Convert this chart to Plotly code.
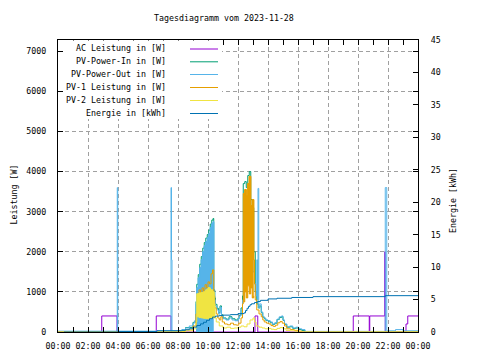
import datetime as dt
import plotly.graph_objects as go

# ---------------- data ----------------
DAY = "2023-11-28"

# AC Leistung [W]
t_ac = ["00:00", "02:55", "03:56", "06:33", "07:32", "13:08", "13:19",
        "19:41", "20:45", "20:47", "21:47", "21:49", "23:12", "23:19", "24:00"]
v_ac = [0, 400, 0, 400, 0, 400, 0,
        400, 0, 400, 2000, 0, 200, 400, 400]

# PV-Power-In [W]
t_pv_in = ["00:00", "08:00", "08:30", "09:00", "09:12", "09:15", "09:21", "09:27",
           "09:33", "09:39", "09:45", "09:51", "09:57", "10:03", "10:09", "10:15",
           "10:20", "10:23", "10:27", "10:30", "10:36", "10:42", "10:48", "10:54",
           "11:00", "11:12", "11:24", "11:36", "11:48", "12:00", "12:06", "12:12",
           "12:18", "12:21", "12:27", "12:33", "12:39", "12:45", "12:51", "12:57",
           "13:03", "13:09", "13:15", "13:21", "13:27", "13:33", "13:39", "13:45",
           "13:51", "14:00", "14:09", "14:18", "14:27", "14:36", "14:45", "14:54",
           "15:00", "15:06", "15:15", "15:27", "15:39", "15:51", "16:03", "16:15",
           "16:28", "24:00"]
v_pv_in = [0, 30, 110, 240, 760, 1190, 1430, 1690,
           1880, 2090, 2230, 2340, 2430, 2540, 2690, 2790,
           2830, 1050, 850, 690, 590, 480, 650, 430,
           350, 320, 380, 330, 300, 350, 420, 600,
           900, 3700, 3750, 3600, 3900, 4000, 3300, 3100,
           2000, 1000, 700, 600, 650, 480, 370, 330,
           290, 270, 230, 190, 220, 310, 360, 380,
           290, 190, 120, 130, 90, 100, 60, 40,
           0, 0]

# PV-Power-Out [W]
t_pv_out = ["00:00", "03:57", "03:59", "07:32", "07:34", "07:36", "08:00", "08:15",
            "08:30", "08:45", "09:00", "09:06", "09:12", "09:15", "09:21", "09:27",
            "09:33", "09:39", "09:45", "09:51", "09:57", "10:03", "10:09", "10:15",
            "10:20", "10:23", "10:27", "10:30", "10:36", "10:42", "10:48", "10:54",
            "11:00", "11:12", "11:24", "11:36", "11:48", "12:00", "12:06", "12:12",
            "12:18", "12:24", "12:30", "12:36", "12:42", "12:48", "12:54", "13:00",
            "13:06", "13:12", "13:15", "13:18", "13:20", "13:23", "13:27", "13:33",
            "13:39", "13:45", "13:51", "14:00", "14:09", "14:18", "14:27", "14:36",
            "14:45", "14:54", "15:00", "15:06", "15:15", "15:27", "15:39", "15:51",
            "16:03", "16:15", "16:28", "21:49", "21:55", "22:30", "23:00", "24:00"]
v_pv_out = [20, 3600, 20, 3600, 1800, 20, 30, 60,
            100, 150, 220, 280, 700, 1100, 1350, 1600,
            1800, 2000, 2150, 2250, 2350, 2450, 2600, 2700,
            2750, 1000, 800, 650, 550, 450, 620, 400,
            330, 300, 350, 300, 280, 330, 400, 550,
            800, 1500, 1200, 1600, 1300, 2000, 2500, 1500,
            1200, 900, 1800, 800, 3580, 600, 700, 500,
            380, 350, 300, 280, 250, 200, 230, 320,
            380, 400, 300, 200, 130, 150, 100, 120,
            80, 60, 15, 3600, 30, 60, 30, 20]

# dense part of PV-Power-Out (drawn as a filled band)
t_pv_out_band = ["09:12", "09:15", "09:21", "09:27", "09:33", "09:39", "09:45",
                 "09:51", "09:57", "10:03", "10:09", "10:15", "10:20", "10:23"]
v_pv_out_band = [700, 1100, 1350, 1600, 1800, 2000, 2150,
                 2250, 2350, 2450, 2600, 2700, 2750, 1000]

# PV-1 Leistung [W]
t_pv1 = ["00:00", "08:00", "08:30", "09:00", "09:12", "09:18", "09:24", "09:30",
         "09:36", "09:42", "09:48", "09:54", "10:00", "10:06", "10:12", "10:18",
         "10:23", "10:27", "10:33", "10:39", "10:45", "10:51", "10:57", "11:06",
         "11:18", "11:30", "11:42", "11:54", "12:03", "12:12", "12:18", "12:21",
         "12:27", "12:33", "12:39", "12:45", "12:51", "12:57", "13:03", "13:06",
         "13:09", "13:15", "13:24", "13:33", "13:39", "13:45", "13:54", "14:03",
         "14:12", "14:21", "14:30", "14:39", "14:48", "14:57", "15:06", "15:15",
         "15:30", "15:45", "16:00", "16:15", "24:00"]
v_pv1 = [0, 10, 50, 150, 450, 900, 1050, 880,
         1100, 1000, 1180, 1100, 1250, 1200, 1450, 1550,
         900, 600, 450, 350, 300, 380, 250, 200,
         180, 220, 180, 170, 220, 350, 700, 3450,
         3550, 3400, 3700, 3880, 3150, 3300, 1800, 1200,
         800, 550, 450, 380, 300, 250, 220, 200,
         160, 140, 170, 230, 260, 220, 150, 80,
         60, 40, 20, 0, 0]

# dense part of PV-1 (drawn as a filled band)
t_pv1_band = ["12:21", "12:27", "12:33", "12:39", "12:45", "12:51", "12:57", "13:03"]
v_pv1_band_hi = [3450, 3550, 3400, 3700, 3880, 3150, 3300, 1800]
v_pv1_band_lo = [750, 1000, 850, 1150, 950, 1100, 850, 900]

# PV-2 Leistung [W]
t_pv2 = ["00:00", "08:00", "08:30", "09:00", "09:12", "09:15", "09:24", "09:33",
         "09:42", "09:51", "10:00", "10:09", "10:18", "10:24", "10:27", "10:33",
         "10:45", "11:00", "11:15", "11:30", "11:45", "12:00", "12:12", "12:24",
         "12:36", "12:48", "13:00", "13:06", "13:12", "13:24", "13:36", "13:48",
         "14:00", "14:12", "14:24", "14:36", "14:48", "15:00", "15:12", "15:30",
         "15:48", "16:00", "24:00"]
v_pv2 = [0, 5, 30, 80, 250, 950, 970, 980,
         1000, 1050, 1100, 1050, 1000, 700, 350, 250,
         150, 100, 120, 90, 100, 120, 150, 130,
         200, 300, 350, 250, 150, 120, 100, 80,
         90, 70, 60, 90, 110, 80, 40, 30,
         20, 0, 0]

# dense part of PV-2 (drawn as a filled band)
t_pv2_band = ["09:15", "09:24", "09:33", "09:42", "09:51", "10:00", "10:09", "10:18", "10:24", "10:27"]
v_pv2_band_hi = [950, 970, 980, 1000, 1050, 1100, 1050, 1000, 700, 350]
v_pv2_band_lo = [380, 360, 350, 340, 330, 330, 340, 350, 350, 350]

# Energie [kWh]
t_energy = ["00:24", "04:00", "06:36", "08:15", "08:30", "08:45", "09:00", "09:15",
            "09:30", "09:42", "09:54", "10:06", "10:18", "10:30", "10:45", "11:00",
            "11:30", "12:00", "12:24", "12:30", "12:36", "12:42", "12:48", "12:54",
            "13:06", "13:18", "13:30", "14:00", "14:36", "15:35", "17:00", "21:49", "24:00"]
v_energy = [0, 0.08, 0.2, 0.26, 0.35, 0.5, 0.75, 1.0,
            1.25, 1.5, 1.8, 2.05, 2.3, 2.45, 2.55, 2.6,
            2.68, 2.83, 2.95, 3.3, 3.65, 3.95, 4.2, 4.35,
            4.55, 4.7, 4.88, 5.1, 5.2, 5.32, 5.45, 5.6, 5.6]

legend_names = ["AC Leistung in [W]", "PV-Power-In in [W]", "PV-Power-Out in [W]",
                "PV-1 Leistung in [W]", "PV-2 Leistung in [W]", "Energie in [kWh]"]
colors = ["#9400d3", "#009e73", "#56b4e9", "#e69f00", "#f0e442", "#0072b2"]

y_ticks = [0, 1000, 2000, 3000, 4000, 5000, 6000, 7000]
y2_ticks = [0, 5, 10, 15, 20, 25, 30, 35, 40, 45]

# ---------------- helpers ----------------
BASE = dt.datetime.strptime(DAY, "%Y-%m-%d")


def tx(times):
    out = []
    for s in times:
        h, m = s.split(":")
        out.append(BASE + dt.timedelta(hours=int(h), minutes=int(m)))
    return out


FONT = "DejaVu Sans Mono"
FS = 8.3

# the page body has an 8px margin: figure is 472x352 placed at (8, 8)
OFF = 8
W, H = 480 - OFF, 360 - OFF
# plot area in window pixels: x 58..418, y 40..332
L, R, T, B = 58 - OFF, 62, 40 - OFF, 28
PW, PH = W - L - R, H - T - B


def px(xw):
    return (xw - OFF - L) / PW


def py(yw):
    return (H - B - (yw - OFF)) / PH


fig = go.Figure()


def line(t, v, c, yaxis="y", **kw):
    fig.add_trace(go.Scatter(x=tx(t), y=v, mode="lines", yaxis=yaxis,
                             line=dict(color=c, width=1, shape="hv"),
                             showlegend=False, hoverinfo="skip", **kw))


# draw order as in the original (gnuplot): AC, PV-In, PV-Out, PV-1, PV-2, Energie
line(t_ac, v_ac, colors[0])
line(t_pv_in, v_pv_in, colors[1])
line(t_pv_out_band, v_pv_out_band, colors[2], fill="tozeroy", fillcolor=colors[2])
line(t_pv_out, v_pv_out, colors[2])
line(t_pv1_band, v_pv1_band_lo, colors[3])
line(t_pv1_band, v_pv1_band_hi, colors[3], fill="tonexty", fillcolor=colors[3])
line(t_pv1, v_pv1, colors[3])
line(t_pv2_band, v_pv2_band_lo, colors[4])
line(t_pv2_band, v_pv2_band_hi, colors[4], fill="tonexty", fillcolor=colors[4])
line(t_pv2, v_pv2, colors[4])
line(t_energy, v_energy, colors[5], yaxis="y2")

# ---------------- layout ----------------
grid = dict(showgrid=True, gridcolor="#a0a0a0", gridwidth=1, griddash="4px,3px")
axis_common = dict(showline=True, linecolor="black", linewidth=1, ticks="inside",
                   tickcolor="black", ticklen=5, zeroline=False, automargin=False,
                   tickfont=dict(family=FONT, size=FS, color="black"))

fig.update_layout(
    width=W, height=H, autosize=False,
    margin=dict(l=L, r=R, t=T, b=B, pad=0, autoexpand=False),
    paper_bgcolor="white", plot_bgcolor="white",
    font=dict(family=FONT, size=FS, color="black"),
    xaxis=dict(type="date", range=[BASE, BASE + dt.timedelta(days=1)],
               dtick=2 * 3600 * 1000, tick0=BASE, tickformat="%H:%M",
               mirror="allticks", ticklabelstandoff=6,
               minor=dict(dtick=3600 * 1000, ticks="inside", ticklen=3,
                          tickcolor="black", showgrid=False),
               **grid, **axis_common),
    yaxis=dict(range=[0, 7280], tickvals=y_ticks, mirror="allticks",
               ticklabelstandoff=9, **grid, **axis_common),
    yaxis2=dict(range=[0, 45], tickvals=y2_ticks, overlaying="y", side="right",
                showgrid=False, ticklabelstandoff=10, **axis_common),
)

ann = [
    dict(text="Tagesdiagramm vom 2023-11-28", x=px(224), y=py(18)),
    dict(text="Leistung [W]", x=px(13.5), y=py(195), textangle=-90),
    dict(text="Energie [kWh]", x=px(453), y=py(201), textangle=-90),
]
for a in ann:
    fig.add_annotation(xref="paper", yref="paper", showarrow=False,
                       xanchor="center", yanchor="middle",
                       font=dict(family=FONT, size=FS, color="black"), **a)

# opaque key box (like gnuplot's key) and the key entries
fig.add_shape(type="rect", xref="paper", yref="paper", layer="above",
              x0=px(63.5), x1=px(222), y0=py(119), y1=py(40.5),
              line=dict(width=0), fillcolor="white")
rows = [48.5, 61.3, 74, 87, 100, 113]
for name, c, ry in zip(legend_names, colors, rows):
    fig.add_annotation(xref="paper", yref="paper", showarrow=False,
                       x=px(168), y=py(ry), xanchor="right", yanchor="middle",
                       text=name, font=dict(family=FONT, size=FS, color="black"))
    fig.add_shape(type="line", xref="paper", yref="paper", layer="above",
                  x0=px(190), x1=px(218), y0=py(ry + 0.5), y1=py(ry + 0.5),
                  line=dict(color=c, width=1))

fig.write_html("out.html")
